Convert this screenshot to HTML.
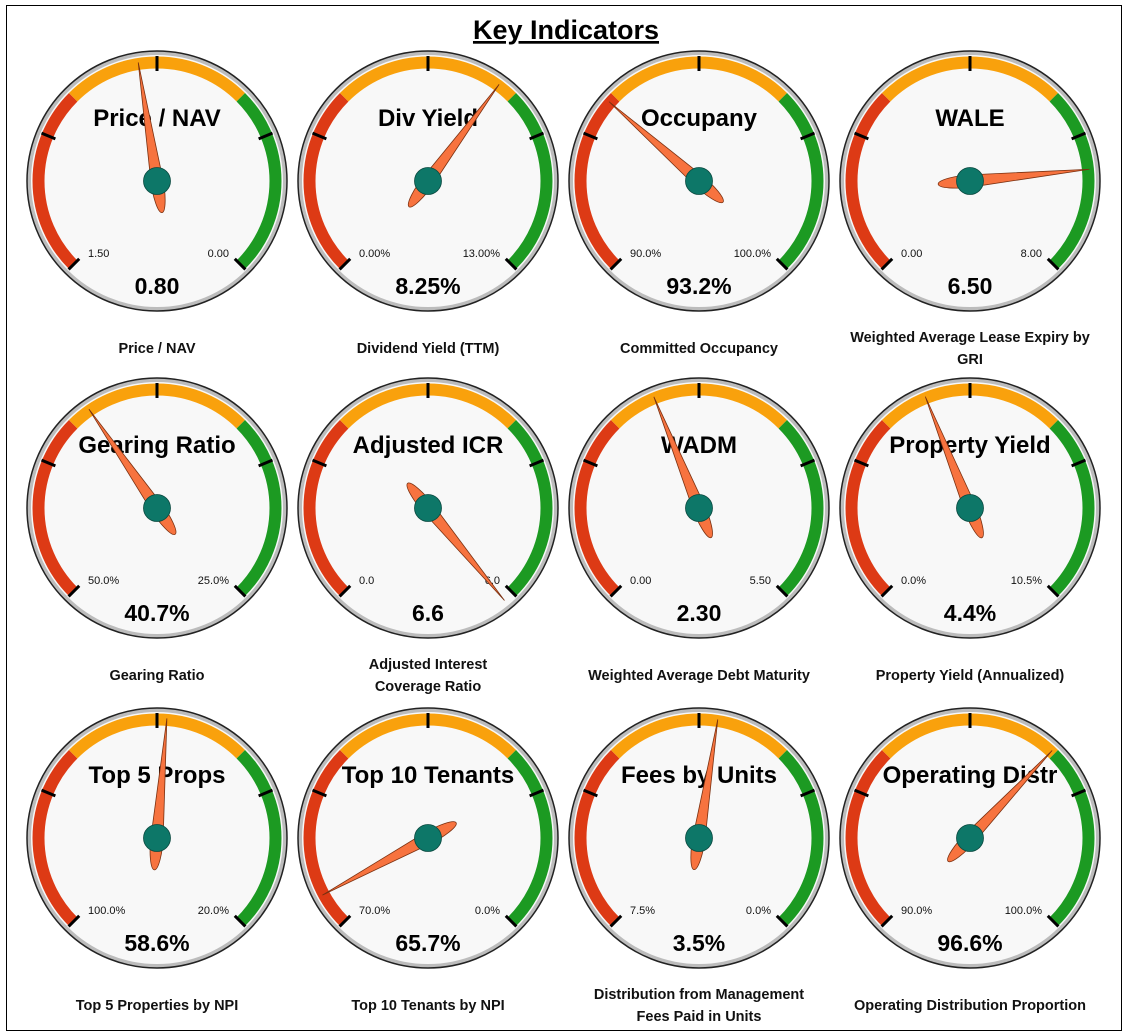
<!DOCTYPE html>
<html><head><meta charset="utf-8"><style>
html,body{margin:0;padding:0;background:#fff;}
body{width:1128px;height:1033px;overflow:hidden;position:relative;font-family:"Liberation Sans",sans-serif;}
#frame{position:absolute;left:6px;top:5px;width:1114px;height:1024px;border:1.5px solid #000;}
svg{position:absolute;left:0;top:0;}
</style></head><body>
<div id="frame"></div>
<svg id="chart" width="1128" height="1033">
<text x="566" y="39" text-anchor="middle" font-size="27" font-weight="bold" text-decoration="underline" font-family="Liberation Sans, sans-serif">Key Indicators</text>
</svg>
<script>
const titles=["Price / NAV","Div Yield","Occupany","WALE","Gearing Ratio","Adjusted ICR","WADM","Property Yield","Top 5 Props","Top 10 Tenants","Fees by Units","Operating Distr"];
const captions=[["Price / NAV"],["Dividend Yield (TTM)"],["Committed Occupancy"],["Weighted Average Lease Expiry by","GRI"],["Gearing Ratio"],["Adjusted Interest","Coverage Ratio"],["Weighted Average Debt Maturity"],["Property Yield (Annualized)"],["Top 5 Properties by NPI"],["Top 10 Tenants by NPI"],["Distribution from Management","Fees Paid in Units"],["Operating Distribution Proportion"]];
const minVals=[1.5,0,90,0,50,0,0,0,100,70,7.5,90];
const maxVals=[0,13,100,8,25,6,5.5,10.5,20,0,0,100];
const values=[0.80,8.25,93.2,6.50,40.7,6.6,2.30,4.4,58.6,65.7,3.5,96.6];
const minLabels=["1.50","0.00%","90.0%","0.00","50.0%","0.0","0.00","0.0%","100.0%","70.0%","7.5%","90.0%"];
const maxLabels=["0.00","13.00%","100.0%","8.00","25.0%","6.0","5.50","10.5%","20.0%","0.0%","0.0%","100.0%"];
const valueLabels=["0.80","8.25%","93.2%","6.50","40.7%","6.6","2.30","4.4%","58.6%","65.7%","3.5%","96.6%"];

const NS="http://www.w3.org/2000/svg";
const svg=document.getElementById('chart');
const colX=[157,428,699,970], rowY=[181,508,838];
function mk(tag,attrs,parent){const e=document.createElementNS(NS,tag);for(const k in attrs)e.setAttribute(k,attrs[k]);(parent||svg).appendChild(e);return e;}
function pt(cx,cy,r,deg){const a=deg*Math.PI/180;return [cx+r*Math.sin(a),cy-r*Math.cos(a)];}
function arc(cx,cy,r,a0,a1){const p0=pt(cx,cy,r,a0),p1=pt(cx,cy,r,a1);return `M${p0[0]},${p0[1]} A${r},${r} 0 ${a1-a0>180?1:0} 1 ${p1[0]},${p1[1]}`;}
function valToAngle(i){let f=(values[i]-minVals[i])/(maxVals[i]-minVals[i]);f=Math.max(-0.02,Math.min(1.02,f));return -135+f*270;}

for(let i=0;i<12;i++){
  const cx=colX[i%4], cy=rowY[Math.floor(i/4)];
  const g=mk('g',{});
  
  
  const o=mk('circle',{cx,cy,r:130,fill:'#bcbcbc',stroke:'#222','stroke-width':1.5},g);
  
  
  const f=mk('circle',{cx,cy,r:126,fill:'#f8f8f8'},g);
  
  
  const bands=[[-135,-45,'#dd3a15'],[-45,45,'#f9a10c'],[45,135,'#1c9a22']];
  const bandNames=['band-red','band-orange','band-green'];
  bands.forEach((b,k)=>{const p=mk('path',{d:arc(cx,cy,118.5,b[0],b[1]),fill:'none',stroke:b[2],'stroke-width':12},g);
    
    });
  for(let t=0;t<5;t++){const a=-135+t*67.5;const p0=pt(cx,cy,110,a),p1=pt(cx,cy,125,a);
    const l=mk('line',{x1:p0[0],y1:p0[1],x2:p1[0],y2:p1[1],stroke:'#000','stroke-width':3},g);
    
    }
  const tt=mk('text',{x:cx,y:cy-55,'text-anchor':'middle','font-size':24,'font-weight':'bold',fill:'#000'},g);tt.textContent=titles[i];
  
  
  const mn=mk('text',{x:cx-69,y:cy+76,'font-size':11,fill:'#111'},g);mn.textContent=minLabels[i];
  
  
  const mx=mk('text',{x:cx+72,y:cy+76,'font-size':11,'text-anchor':'end',fill:'#111'},g);mx.textContent=maxLabels[i];
  
  
  const vl=mk('text',{x:cx,y:cy+113,'text-anchor':'middle','font-size':23,'font-weight':'bold',fill:'#000'},g);vl.textContent=valueLabels[i];
  
  
  const a=valToAngle(i);
  const nd=mk('path',{d:'M0,-120 L6,-3 C7,15 4,32 0,32 C-4,32 -7,15 -6,-3 Z',fill:'#f7733f',stroke:'#7a3010','stroke-width':0.8,transform:`translate(${cx},${cy}) rotate(${a})`},g);
  
  
  const hb=mk('circle',{cx,cy,r:13.5,fill:'#0d7768',stroke:'#0a4a40','stroke-width':0.8},g);
  
  
  const lines=captions[i];
  const baseY=cy+(lines.length===1?172:161);
  lines.forEach((s,k)=>{const c=mk('text',{x:cx,y:baseY+k*22,'text-anchor':'middle','font-size':14.5,'font-weight':'bold',fill:'#111'},g);c.textContent=s;
    
    });
}
</script>
</body></html>
